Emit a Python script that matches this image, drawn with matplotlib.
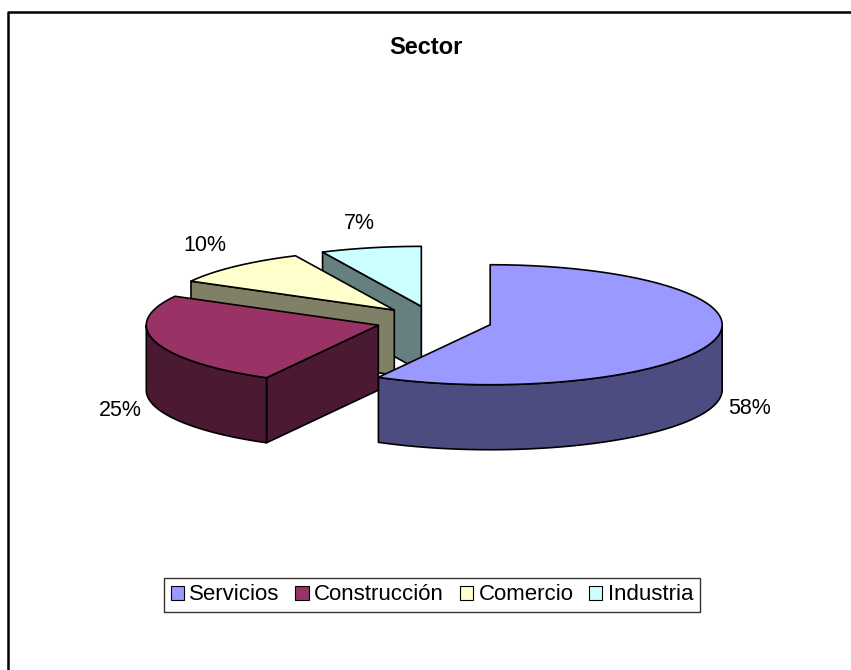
import numpy as np
import matplotlib
matplotlib.use('Agg')
import matplotlib.pyplot as plt
from matplotlib.patches import Polygon, Patch

plt.rcParams['font.family'] = ['Liberation Sans', 'DejaVu Sans']

# data
categories = ['Servicios', 'Construcción', 'Comercio', 'Industria']
values = [58, 25, 10, 7]
top_colors = ['#9999FF', '#993366', '#FFFFCC', '#CCFFFF']
side_colors = ['#4C4C80', '#4C1933', '#808066', '#668080']

# pie geometry (pixels)
W, H = 851, 670
cx, cy = 434, 321
rx, ry = 232, 60
depth = 65
explode = 0.25

fig = plt.figure(figsize=(W / 100, H / 100), dpi=100)
ax = fig.add_axes([0, 0, 1, 1])
ax.set_xlim(0, W)
ax.set_ylim(H, 0)
ax.axis('off')

# frame (left and top edges visible)
ax.plot([8, 8, W + 5], [H + 5, 12, 12], color='black', lw=1.8, clip_on=False)

ax.text(W / 2, 48, 'Sector', ha='center', va='center', fontsize=17, fontweight='bold')


def pt(x0, y0, a, dz=0):
    r = np.radians(a)
    return x0 + rx * np.cos(r), y0 - ry * np.sin(r) + dz


def arc(x0, y0, a0, a1, dz=0, n=120):
    t = np.radians(np.linspace(a0, a1, n))
    return np.column_stack([x0 + rx * np.cos(t), y0 - ry * np.sin(t) + dz])


total = sum(values)
ends = 90 - np.cumsum([0] + [v / total * 360 for v in values])
slices = []
for i, v in enumerate(values):
    a1, a0 = ends[i], ends[i + 1]
    mid = (a0 + a1) / 2
    m = np.radians(mid)
    sx = cx + explode * rx * np.cos(m)
    sy = cy - explode * ry * np.sin(m)
    slices.append((i, a0, a1, mid, sx, sy))

ec = dict(edgecolor='black', lw=1.2, joinstyle='round')

for i, a0, a1, mid, sx, sy in sorted(slices, key=lambda s: s[5]):
    # radial side faces
    for a, show in ((a1, np.cos(np.radians(a1)) < -1e-6), (a0, np.cos(np.radians(a0)) > 1e-6)):
        if show:
            px, py = pt(sx, sy, a)
            poly = [(sx, sy), (px, py), (px, py + depth), (sx, sy + depth)]
            ax.add_patch(Polygon(poly, closed=True, facecolor=side_colors[i], **ec))
    # outer curved wall, front part only
    for k in range(-2, 2):
        lo = max(a0, -180 + 360 * k)
        hi = min(a1, 360 * k)
        if hi > lo:
            topa = arc(sx, sy, lo, hi)
            bota = arc(sx, sy, hi, lo, depth)
            ax.add_patch(Polygon(np.vstack([topa, bota]), closed=True,
                                 facecolor=side_colors[i], **ec))
    # top face
    face = np.vstack([[sx, sy], arc(sx, sy, a0, a1)])
    ax.add_patch(Polygon(face, closed=True, facecolor=top_colors[i], **ec))

    # percentage label
    m = np.radians(mid)
    c, s = np.cos(m), np.sin(m)
    lx = sx + (rx + 14) * c - (8 if abs(c) < 0.3 else 0)
    ly = sy - (ry + 14) * s + (depth if s < 0 else 0)
    ha = 'left' if c > 0.3 else ('right' if c < -0.3 else 'center')
    va = 'bottom' if s > 0.3 else ('top' if s < -0.3 else 'center')
    ax.text(lx, ly, f'{values[i] / total * 100:.0f}%', ha=ha, va=va, fontsize=15.5)

handles = [Patch(facecolor=top_colors[i], edgecolor='black', lw=0.8) for i in range(len(categories))]
fig.legend(handles, categories, loc='center', bbox_to_anchor=(432 / W, 1 - 595 / H),
           ncol=4, fontsize=16, frameon=True, fancybox=False, edgecolor='black',
           handlelength=0.6, handleheight=0.6, handletextpad=0.25, columnspacing=0.7,
           borderpad=0.3, borderaxespad=0)
fig.legends[0].get_frame().set_linewidth(1.0)

fig.savefig('out.png', dpi=100)
